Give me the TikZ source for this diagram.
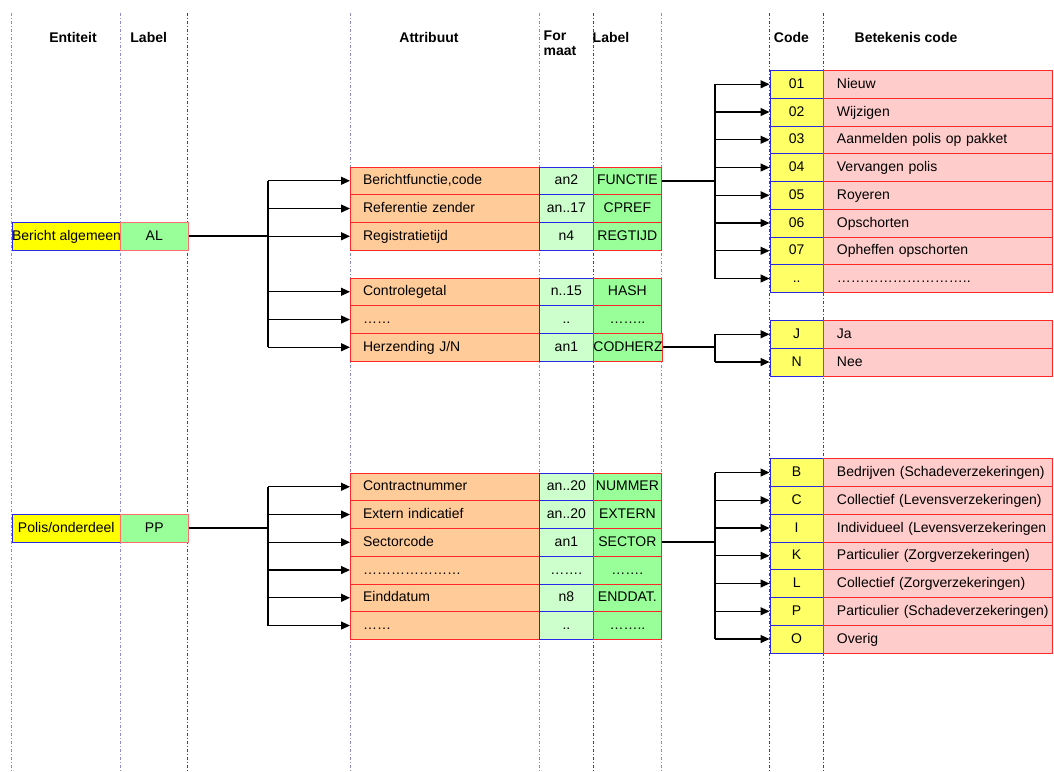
\documentclass[tikz,border=0pt]{standalone}
\usepackage{fontspec}
\setmainfont{Liberation Sans}
\usetikzlibrary{arrows.meta}
\definecolor{vdark}{RGB}{60,60,160}
\definecolor{vlight}{RGB}{140,140,200}
\definecolor{attrfill}{RGB}{255,204,153}
\definecolor{fmtfill}{RGB}{204,255,204}
\definecolor{labfill}{RGB}{153,255,153}
\definecolor{codefill}{RGB}{255,255,102}
\definecolor{descfill}{RGB}{255,204,204}
\definecolor{entfill}{RGB}{255,255,0}
\definecolor{cellred}{RGB}{255,40,40}
\definecolor{cellblue}{RGB}{40,40,230}
\definecolor{alred}{RGB}{255,110,110}

\newcommand\AttrRow[5]{%
  \node[attrcell] (a#1) at (350,#2) {\mbox{#3}};
  \node[fmtcell]  (f#1) at (539,#2) {#4};
  \node[labcell]  (l#1) at (593,#2) {#5};
}
\newcommand\CodeRow[4]{%
  \node[codecell] (c#1) at (769.5,#2) {#3};
  \node[desccell] (d#1) at (823,#2) {\mbox{#4}};
}

\begin{document}
\begin{tikzpicture}[x=1pt, y=-1pt,
  font=\fontsize{14}{16}\selectfont,
  vline/.style={line width=0.7pt, dash pattern=on 3pt off 2pt on 1pt off 2pt},
  cellbox/.style={rectangle, minimum height=27.75pt, inner ysep=0pt, line width=0.8pt, anchor=north west, text height=11pt, text depth=3pt},
  attrcell/.style={cellbox, fill=attrfill, draw=cellred, text width=163.6pt, inner xsep=12.7pt, align=left},
  fmtcell/.style={cellbox, fill=fmtfill, draw=cellblue, minimum width=54pt, inner xsep=0pt},
  labcell/.style={cellbox, fill=labfill, draw=cellred, minimum width=68pt, inner xsep=0pt},
  codecell/.style={cellbox, fill=codefill, draw=cellblue, minimum width=53.5pt, inner xsep=0pt},
  desccell/.style={cellbox, fill=descfill, draw=cellred, text width=202pt, inner xsep=13.5pt, align=left},
  entcell/.style={cellbox, fill=entfill, draw=cellblue, minimum width=108.3pt, inner xsep=0pt},
  alcell/.style={cellbox, fill=labfill, draw=alred, minimum width=67.7pt, inner xsep=0pt},
  conn/.style={line width=1.3pt, -{Triangle[length=9pt,width=8pt]}},
  bus/.style={line width=1.7pt},
  mainline/.style={line width=2.3pt},
  hdr/.style={font=\fontsize{14}{15}\selectfont\bfseries, inner sep=0pt}
]
\path[use as bounding box] (0,0) rectangle (1054,771);

% vertical guide lines
\foreach \x/\c in {11.7/vlight,120/vlight,187.7/vdark,350/vlight,539/vlight,593/vdark,661/vlight,769.5/vdark,823/vdark}
  \draw[vline, draw=\c] (\x,13) -- (\x,771);

% headers
\node[hdr] (hEnt) at (73,37) {Entiteit};
\node[hdr] (hLab1) at (148.7,37) {Label};
\node[hdr] (hAttr) at (429,37) {Attribuut};
\node[hdr, anchor=north west, align=left] (hFmt) at (543.5,31) {For\\maat};
\node[hdr, anchor=west] (hLab2) at (592.5,37) {Label};
\node[hdr, anchor=west] (hCode) at (773.7,37) {Code};
\node[hdr] (hBet) at (906,37) {Betekenis code};

% entities
\node[entcell] (ent1) at (11.7,222) {Bericht algemeen};
\node[alcell] (AL) at (120,222) {AL};
\node[entcell] (ent2) at (11.7,513.75) {Polis/onderdeel};
\node[alcell] (PP) at (120,513.75) {PP};

% attribute tables
\AttrRow{1}{166.5}{Berichtfunctie,code}{an2}{FUNCTIE}
\AttrRow{2}{194.25}{Referentie zender}{an..17}{CPREF}
\AttrRow{3}{222}{Registratietijd}{n4}{REGTIJD}
\AttrRow{4}{277.5}{Controlegetal}{n..15}{HASH}
\AttrRow{5}{305.25}{……}{..}{……..}
\AttrRow{6}{333}{Herzending J/N}{an1}{CODHERZ}

\AttrRow{7}{472.5}{Contractnummer}{an..20}{NUMMER}
\AttrRow{8}{500.25}{Extern indicatief}{an..20}{EXTERN}
\AttrRow{9}{528}{Sectorcode}{an1}{SECTOR}
\AttrRow{10}{555.75}{…………………}{…….}{…….}
\AttrRow{11}{583.5}{Einddatum}{n8}{ENDDAT.}
\AttrRow{12}{611.25}{……}{..}{……..}

% code tables
\CodeRow{1}{70}{01}{Nieuw}
\CodeRow{2}{97.75}{02}{Wijzigen}
\CodeRow{3}{125.5}{03}{Aanmelden polis op pakket}
\CodeRow{4}{153.25}{04}{Vervangen polis}
\CodeRow{5}{181}{05}{Royeren}
\CodeRow{6}{208.75}{06}{Opschorten}
\CodeRow{7}{236.5}{07}{Opheffen opschorten}
\CodeRow{8}{264.25}{..}{………………………..}

\CodeRow{j}{320}{J}{Ja}
\CodeRow{n}{347.75}{N}{Nee}

\CodeRow{b}{458.25}{B}{Bedrijven (Schadeverzekeringen)}
\CodeRow{c}{486}{C}{Collectief (Levensverzekeringen)}
\CodeRow{i}{513.75}{I}{Individueel (Levensverzekeringen}
\CodeRow{k}{541.5}{K}{Particulier (Zorgverzekeringen)}
\CodeRow{l}{569.25}{L}{Collectief (Zorgverzekeringen)}
\CodeRow{p}{597}{P}{Particulier (Schadeverzekeringen)}
\CodeRow{o}{624.75}{O}{Overig}

% connectors
\coordinate (t1) at (268.3,0);
\coordinate (t2) at (715,0);

\draw[mainline] (AL.east) -- (AL.east -| t1);
\draw[bus] (a1.west -| t1) -- (a6.west -| t1);
\foreach \r in {1,...,6} \draw[conn] (a\r.west -| t1) -- (a\r.west);

\draw[mainline] (PP.east) -- (PP.east -| t1);
\draw[bus] (a7.west -| t1) -- (a12.west -| t1);
\foreach \r in {7,...,12} \draw[conn] (a\r.west -| t1) -- (a\r.west);

\draw[mainline] (l1.east) -- (l1.east -| t2);
\draw[bus] (c1.west -| t2) -- (c8.west -| t2);
\foreach \k in {1,...,8} \draw[conn] (c\k.west -| t2) -- (c\k.west);

\draw[mainline] (l6.east) -- (l6.east -| t2);
\draw[bus] (cj.west -| t2) -- (cn.west -| t2);
\foreach \k in {j,n} \draw[conn] (c\k.west -| t2) -- (c\k.west);

\draw[mainline] (l9.east) -- (l9.east -| t2);
\draw[bus] (cb.west -| t2) -- (co.west -| t2);
\foreach \k in {b,c,i,k,l,p,o} \draw[conn] (c\k.west -| t2) -- (c\k.west);
\end{tikzpicture}
\end{document}
